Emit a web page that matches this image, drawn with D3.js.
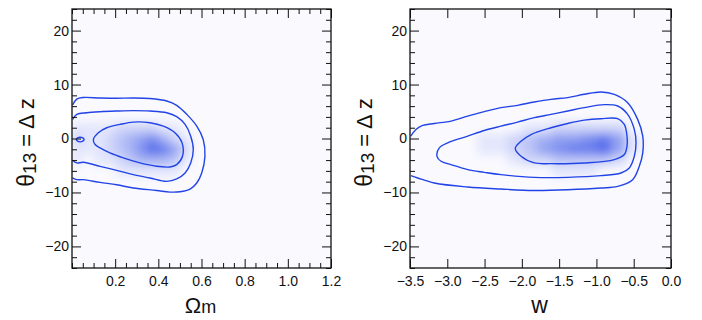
<!DOCTYPE html>
<html>
<head>
<meta charset="utf-8">
<script src="https://cdn.jsdelivr.net/npm/d3@7"></script>
<style>
  html, body { margin: 0; padding: 0; background: #ffffff; }
  svg { display: block; }
  text { font-family: "Liberation Sans", Arial, Helvetica, sans-serif; fill: #111; }
</style>
</head>
<body>
<svg id="chart" width="702" height="320"></svg>
<script>
// ---------------- DATA ----------------
const yDomain = [-24, 24];
const yMajorTicks = [-20, -10, 0, 10, 20];
const leftXDomain = [0, 1.2];
const leftXMajorTicks = [0.2, 0.4, 0.6, 0.8, 1.0, 1.2];
const rightXDomain = [-3.5, 0];
const rightXMajorTicks = [-3.5, -3.0, -2.5, -2.0, -1.5, -1.0, -0.5, 0.0];

// contours (Omega_m, dz)
const leftOuter = [[0.003,6.2],[0.022,7.3],[0.052,7.6],[0.130,7.5],[0.207,7.45],[0.284,7.5],[0.361,7.4],[0.439,6.95],[0.485,6.15],[0.532,4.47],[0.578,2.29],[0.608,-0.19],[0.616,-3.3],[0.601,-6.39],[0.578,-8.25],[0.547,-9.37],[0.500,-9.87],[0.454,-9.93],[0.392,-9.63],[0.284,-9.18],[0.207,-8.57],[0.130,-8.14],[0.052,-7.63],[0.022,-7.63],[0.003,-7.3]];
const leftMiddle = [[0.003,3.54],[0.022,4.47],[0.068,4.78],[0.130,4.97],[0.207,5.09],[0.284,5.16],[0.361,5.09],[0.439,4.78],[0.485,4.04],[0.524,2.61],[0.550,0.43],[0.562,-2.05],[0.550,-4.53],[0.524,-6.39],[0.485,-7.5],[0.439,-7.95],[0.361,-7.32],[0.284,-6.7],[0.207,-5.9],[0.130,-5.16],[0.052,-4.41],[0.022,-4.53],[0.003,-4.04]];
const leftInner = [[0.099,-0.19],[0.122,1.06],[0.161,1.99],[0.222,2.61],[0.284,3.04],[0.361,2.92],[0.423,2.29],[0.477,1.06],[0.510,-0.81],[0.512,-3.3],[0.485,-4.84],[0.454,-5.27],[0.392,-5.15],[0.315,-4.53],[0.238,-3.6],[0.176,-2.67],[0.130,-1.74],[0.107,-1.12]];
const leftIsland = [[0.020,-0.19],[0.026,0.12],[0.038,0.24],[0.050,0.12],[0.056,-0.19],[0.050,-0.50],[0.038,-0.62],[0.026,-0.50]];

// contours (w, dz)
const rightOuter = [[-3.490,0.43],[-3.42,1.68],[-3.33,2.42],[-3.174,2.79],[-2.95,3.23],[-2.726,4.16],[-2.504,4.97],[-2.28,5.72],[-2.057,6.15],[-1.833,6.76],[-1.609,7.26],[-1.385,7.58],[-1.163,8.19],[-0.939,8.62],[-0.76,8.19],[-0.581,6.64],[-0.447,3.54],[-0.379,0.43],[-0.379,-2.67],[-0.425,-5.15],[-0.514,-7.63],[-0.715,-8.88],[-0.939,-9.18],[-1.385,-9.5],[-1.833,-9.63],[-2.28,-9.37],[-2.726,-9.0],[-3.174,-8.25],[-3.397,-7.32],[-3.490,-6.89]];
const rightMiddle = [[-3.138,-3.3],[-3.107,-1.74],[-2.994,-0.81],[-2.726,0.43],[-2.504,1.49],[-2.28,2.29],[-2.057,3.04],[-1.833,3.86],[-1.609,4.47],[-1.385,5.09],[-1.163,5.72],[-0.894,6.27],[-0.715,6.02],[-0.581,4.47],[-0.492,1.68],[-0.469,-0.81],[-0.492,-3.3],[-0.559,-5.46],[-0.67,-6.39],[-0.939,-6.89],[-1.385,-7.2],[-1.833,-7.2],[-2.28,-6.7],[-2.504,-6.27],[-2.726,-5.77],[-2.95,-4.84],[-3.084,-4.22]];
const rightInner = [[-2.088,-1.86],[-2.011,-0.5],[-1.877,0.74],[-1.609,1.99],[-1.385,2.79],[-1.163,3.41],[-0.939,3.67],[-0.715,3.67],[-0.626,2.61],[-0.59,0.43],[-0.59,-1.43],[-0.626,-2.98],[-0.76,-3.91],[-1.163,-4.53],[-1.609,-4.66],[-1.833,-4.53],[-2.011,-3.3]];

// density grids (cell centres, relative levels 0..10)
const leftDensX = [0.025,0.075,0.125,0.175,0.225,0.275,0.325,0.375,0.425,0.475,0.525,0.575];
const leftDensY = [4, 2, 0, -2, -4, -6];
const leftDens = [
  [0,0,0,0,0,0,0,0,0,0,0,0],
  [1,1,1,1,2,2,2,2,1,1,0,0],
  [2,1,1,2,3,4,5,6,4,2,1,0],
  [1,1,1,2,3,4,6,8,7,5,2,0],
  [1,0,1,1,2,3,4,4,4,3,1,0],
  [0,0,0,0,1,1,1,1,1,1,0,0]
];
const rightDensX = [-2.7,-2.5,-2.3,-2.1,-1.9,-1.7,-1.5,-1.3,-1.1,-0.9,-0.7,-0.5];
const rightDensY = [4, 2, 0, -2, -4, -6];
const rightDens = [
  [0,0,0,0,0,0,0,0,0,0,0,0],
  [0,0,0,0,1,1,2,2,2,2,2,0],
  [0,1,1,2,3,4,5,5,6,7,5,1],
  [0,1,1,2,3,5,6,7,7,8,5,1],
  [0,0,0,1,2,2,3,3,3,3,2,0],
  [0,0,0,0,0,0,1,1,1,0,0,0]
];

// ---------------- DRAW ----------------
const svg = d3.select("#chart");
const bg = "#f9f9fe";
const lineColor = "#2244e6";
const densColor = d3.scaleLinear().domain([0, 10]).range([bg, "#2a48e6"]);
const FONT = "Liberation Sans, Arial, Helvetica, sans-serif";

const defs = svg.append("defs");
defs.append("filter").attr("id", "blur")
  .attr("x", "-20%").attr("y", "-20%").attr("width", "140%").attr("height", "140%")
  .append("feGaussianBlur").attr("stdDeviation", 5);

function panel(opts) {
  const { id, x0, x1, y0, y1, xDomain, xMajor, xMinorStep, yLabelX, xLabel } = opts;
  const x = d3.scaleLinear().domain(xDomain).range([x0, x1]);
  const y = d3.scaleLinear().domain(yDomain).range([y1, y0]);
  const g = svg.append("g");

  defs.append("clipPath").attr("id", "clip-" + id)
    .append("rect").attr("x", x0).attr("y", y0).attr("width", x1 - x0).attr("height", y1 - y0);

  g.append("rect").attr("x", x0).attr("y", y0).attr("width", x1 - x0).attr("height", y1 - y0).attr("fill", bg);

  // density
  const cg = g.append("g").attr("clip-path", `url(#clip-${id})`);
  const dg = cg.append("g").attr("filter", "url(#blur)");
  const dx = Math.abs(opts.densX[1] - opts.densX[0]);
  const dy = Math.abs(opts.densY[0] - opts.densY[1]);
  opts.dens.forEach((row, i) => {
    row.forEach((v, j) => {
      const cx = opts.densX[j], cy = opts.densY[i];
      dg.append("rect")
        .attr("x", x(cx - dx / 2)).attr("y", y(cy + dy / 2))
        .attr("width", x(cx + dx / 2) - x(cx - dx / 2) + 0.5)
        .attr("height", y(cy - dy / 2) - y(cy + dy / 2) + 0.5)
        .attr("fill", densColor(v));
    });
  });

  // contours
  const lineOpen = d3.line().x(d => x(d[0])).y(d => y(d[1])).curve(d3.curveCatmullRom.alpha(0.5));
  const lineClosed = d3.line().x(d => x(d[0])).y(d => y(d[1])).curve(d3.curveCatmullRomClosed.alpha(0.5));
  opts.contours.forEach(c => {
    cg.append("path").attr("d", (c.closed ? lineClosed : lineOpen)(c.pts))
      .attr("fill", "none").attr("stroke", lineColor).attr("stroke-width", 1.4)
      .attr("stroke-linejoin", "round");
  });

  // axes
  const fmtX = d3.format(".1f");
  const yMinor = d3.range(-24, 24.01, 2).filter(v => v % 10 !== 0);
  const xMinor = xMinorStep ? d3.range(xDomain[0], xDomain[1] + 1e-9, xMinorStep)
    .map(v => +v.toFixed(4)).filter(v => !xMajor.some(m => Math.abs(m - v) < 1e-6)) : [];

  const axes = g.append("g");
  const add = (tr, axis) => axes.append("g").attr("transform", tr).call(axis)
    .attr("font-size", 14).attr("font-family", FONT);
  add(`translate(${x0},0)`, d3.axisLeft(y).tickValues(yMajorTicks).tickSize(-9).tickPadding(3).tickFormat(d3.format("d")));
  add(`translate(${x0},0)`, d3.axisLeft(y).tickValues(yMinor).tickSize(-5).tickFormat(""));
  add(`translate(${x1},0)`, d3.axisRight(y).tickValues(yMajorTicks).tickSize(-9).tickFormat(""));
  add(`translate(${x1},0)`, d3.axisRight(y).tickValues(yMinor).tickSize(-5).tickFormat(""));
  add(`translate(0,${y1})`, d3.axisBottom(x).tickValues(xMajor).tickSize(-9).tickPadding(8).tickFormat(fmtX));
  if (xMinor.length) add(`translate(0,${y1})`, d3.axisBottom(x).tickValues(xMinor).tickSize(-5).tickFormat(""));
  add(`translate(0,${y0})`, d3.axisTop(x).tickValues(xMajor).tickSize(-9).tickFormat(""));
  if (xMinor.length) add(`translate(0,${y0})`, d3.axisTop(x).tickValues(xMinor).tickSize(-5).tickFormat(""));

  axes.selectAll(".domain").remove();
  axes.selectAll(".tick line").attr("stroke", "#111").attr("stroke-width", 1);
  axes.selectAll(".tick text").attr("fill", "#111");

  // frame
  g.append("rect").attr("x", x0).attr("y", y0).attr("width", x1 - x0).attr("height", y1 - y0)
    .attr("fill", "none").attr("stroke", "#111").attr("stroke-width", 1.3);

  // y label
  const yl = g.append("text")
    .attr("transform", `translate(${yLabelX},${(y0 + y1) / 2 + 4}) rotate(-90)`)
    .attr("text-anchor", "middle");
  yl.append("tspan").attr("font-size", 23).text("θ");
  yl.append("tspan").attr("font-size", 19).attr("dy", 2).text("13");
  yl.append("tspan").attr("font-size", 22).attr("dy", -2).text(" = Δ z");

  // x label
  const xl = g.append("text").attr("x", (x0 + x1) / 2 - 1).attr("y", 313).attr("text-anchor", "middle");
  if (xLabel === "Om") {
    xl.append("tspan").attr("font-size", 22).text("Ω");
    xl.append("tspan").attr("font-size", 18).text("m");
  } else {
    xl.append("tspan").attr("font-size", 23).text(xLabel);
  }
}

panel({
  id: "L", x0: 72, x1: 331, y0: 9, y1: 268,
  xDomain: leftXDomain, xMajor: leftXMajorTicks, xMinorStep: 0.05,
  yLabelX: 34, xLabel: "Om",
  densX: leftDensX, densY: leftDensY, dens: leftDens,
  contours: [
    { pts: leftOuter, closed: false },
    { pts: leftMiddle, closed: false },
    { pts: leftInner, closed: true },
    { pts: leftIsland, closed: true }
  ]
});

panel({
  id: "R", x0: 410, x1: 671, y0: 9, y1: 268,
  xDomain: rightXDomain, xMajor: rightXMajorTicks, xMinorStep: null,
  yLabelX: 372, xLabel: "w",
  densX: rightDensX, densY: rightDensY, dens: rightDens,
  contours: [
    { pts: rightOuter, closed: false },
    { pts: rightMiddle, closed: true },
    { pts: rightInner, closed: true }
  ]
});
</script>
</body>
</html>
